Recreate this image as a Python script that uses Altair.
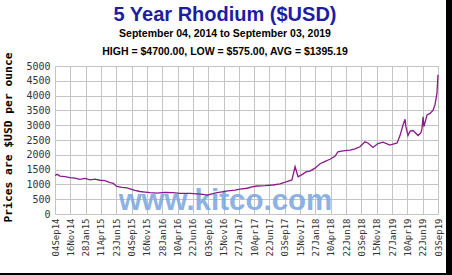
import altair as alt
import pandas as pd

# ---- data ----
dates = [
    "2014-09-04", "2014-09-14", "2014-09-28", "2014-10-22", "2014-11-14", "2014-12-08",
    "2015-01-01", "2015-01-25", "2015-02-18", "2015-03-14", "2015-04-06", "2015-04-30",
    "2015-05-24", "2015-06-07", "2015-06-26", "2015-07-20", "2015-08-13", "2015-08-27",
    "2015-09-20", "2015-10-14", "2015-11-07", "2015-12-01", "2016-01-03", "2016-02-10",
    "2016-03-19", "2016-04-22", "2016-06-08", "2016-07-12", "2016-08-09", "2016-08-28",
    "2016-09-21", "2016-10-15", "2016-11-08", "2016-12-06", "2017-01-09", "2017-02-02",
    "2017-03-07", "2017-03-31", "2017-04-24", "2017-06-01", "2017-07-09", "2017-08-11",
    "2017-09-13", "2017-10-07", "2017-10-22", "2017-11-05", "2017-11-24", "2017-12-13",
    "2018-01-01", "2018-01-25", "2018-02-18", "2018-03-14", "2018-04-06", "2018-04-30",
    "2018-05-14", "2018-06-07", "2018-07-11", "2018-08-04", "2018-08-27", "2018-09-20",
    "2018-10-04", "2018-10-28", "2018-11-21", "2018-12-15", "2019-01-17", "2019-02-20",
    "2019-03-06", "2019-03-20", "2019-03-30", "2019-04-03", "2019-04-13", "2019-04-23",
    "2019-05-07", "2019-05-31", "2019-06-14", "2019-06-19", "2019-06-24", "2019-06-28",
    "2019-07-13", "2019-07-27", "2019-08-10", "2019-08-20", "2019-08-29", "2019-09-03",
]
prices = [
    1300, 1340, 1280, 1260, 1230, 1215,
    1170, 1200, 1150, 1175, 1140, 1130,
    1060, 1040, 930, 900, 880, 850,
    800, 760, 740, 720, 705, 730,
    720, 700, 700, 680, 660, 640,
    680, 720, 750, 780, 810, 840,
    870, 920, 946, 960, 980, 1020,
    1090, 1150, 1600, 1260, 1330, 1420,
    1450, 1550, 1700, 1780, 1850, 1950,
    2100, 2130, 2160, 2200, 2270, 2440,
    2400, 2250, 2380, 2430, 2330, 2400,
    2650, 3000, 3200, 2950, 2650, 2800,
    2820, 2650, 2750, 2900, 3280, 2950,
    3350, 3400, 3500, 3700, 4080, 4700,
]
tick_dates = [
    (2014, 9, 4), (2014, 11, 16), (2015, 1, 28), (2015, 4, 11), (2015, 6, 23),
    (2015, 9, 4), (2015, 11, 16), (2016, 1, 28), (2016, 4, 10), (2016, 6, 22),
    (2016, 9, 3), (2016, 11, 15), (2017, 1, 27), (2017, 4, 10), (2017, 6, 22),
    (2017, 9, 3), (2017, 11, 15), (2018, 1, 27), (2018, 4, 10), (2018, 6, 22),
    (2018, 9, 3), (2018, 11, 15), (2019, 1, 27), (2019, 4, 10), (2019, 6, 22),
    (2019, 9, 3),
]
y_ticks = [0, 500, 1000, 1500, 2000, 2500, 3000, 3500, 4000, 4500, 5000]

title_text = "5 Year Rhodium ($USD)"
subtitle_text = "September 04, 2014 to September 03, 2019"
stats_text = "HIGH = $4700.00, LOW = $575.00, AVG = $1395.19"
watermark_text = "www.kitco.com"

df = pd.DataFrame({"date": dates, "price": prices})


def dt(t):
    return alt.DateTime(year=t[0], month=t[1], date=t[2], utc=True)


GRID = "#c4c4c4"
MONO = "DejaVu Sans Mono"
SANS = "Liberation Sans"

x_enc = alt.X(
    "date:T",
    scale=alt.Scale(type="utc", domain=[dt(tick_dates[0]), dt(tick_dates[-1])]),
    axis=alt.Axis(
        values=[dt(t) for t in tick_dates],
        labelExpr="utcFormat(datum.value, '%d%b%y')",
        labelAngle=270,
        labelFont=MONO,
        labelFontSize=9,
        labelColor="#333333",
        labelPadding=4,
        labelOverlap=False,
        ticks=False,
        domain=False,
        grid=True,
        gridColor=GRID,
        gridOpacity=1,
        title=None,
    ),
)
y_enc = alt.Y(
    "price:Q",
    scale=alt.Scale(domain=[0, 5000], nice=False),
    axis=alt.Axis(
        values=y_ticks,
        format="d",
        labelFont=MONO,
        labelFontSize=10,
        labelColor="#333333",
        labelPadding=5,
        ticks=False,
        domain=False,
        grid=True,
        gridColor=GRID,
        gridOpacity=1,
        title="Prices are $USD per ounce",
        titleFont=MONO,
        titleFontSize=11.3,
        titleFontWeight="bold",
        titleColor="#000000",
        titleX=-47,
        titleY=71,
        titleBaseline="middle",
        titleAngle=270,
    ),
)

one = pd.DataFrame({"k": [0]})

watermark = alt.Chart(one).mark_text(
    font=SANS, fontSize=29.5, fontWeight="bold", color="#7aa5e0", opacity=0.85,
    align="center", baseline="alphabetic",
).encode(x=alt.value(170.5), y=alt.value(144), text=alt.value(watermark_text))

line = alt.Chart(df).mark_line(color="#8a1a8a", strokeWidth=1.3).encode(x=x_enc, y=y_enc)

title = alt.Chart(one).mark_text(
    font=SANS, fontSize=20, fontWeight="bold", color="#1c1ca6", align="center", baseline="alphabetic",
).encode(x=alt.value(170), y=alt.value(-45), text=alt.value(title_text))
subtitle = alt.Chart(one).mark_text(
    font=SANS, fontSize=10.5, fontWeight="bold", color="#000000", align="center", baseline="alphabetic",
).encode(x=alt.value(170), y=alt.value(-29), text=alt.value(subtitle_text))
stats = alt.Chart(one).mark_text(
    font=SANS, fontSize=10.5, fontWeight="bold", color="#000000", align="center", baseline="alphabetic",
).encode(x=alt.value(170), y=alt.value(-11.5), text=alt.value(stats_text))

border_right = alt.Chart(one).mark_rect(color="#000000").encode(
    x=alt.value(391), x2=alt.value(397), y=alt.value(-66), y2=alt.value(209)
)
border_bottom = alt.Chart(one).mark_rect(color="#000000").encode(
    x=alt.value(-55), x2=alt.value(397), y=alt.value(207), y2=alt.value(209)
)

chart = alt.layer(
    watermark, line, title, subtitle, stats, border_right, border_bottom
).properties(
    width=383,
    height=148,
    autosize=alt.AutoSizeParams(type="none"),
    padding={"left": 55, "top": 66, "right": 14, "bottom": 61},
    background="white",
).configure_view(stroke=GRID, strokeWidth=1)

chart.save("out.html", embed_options={"renderer": "svg", "actions": False})
